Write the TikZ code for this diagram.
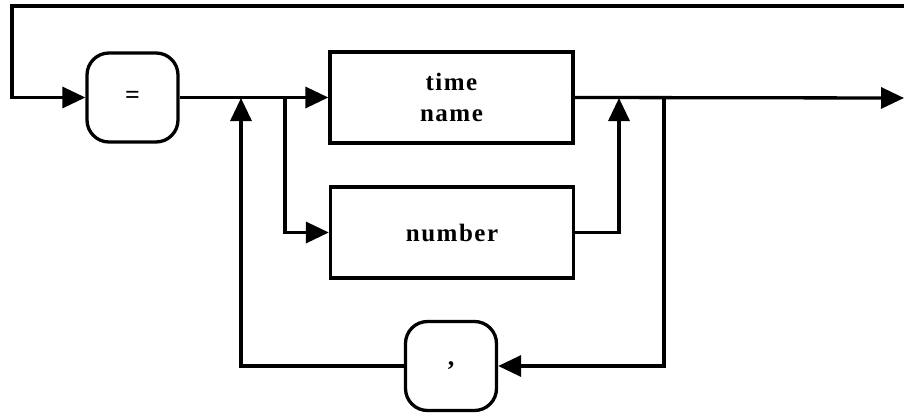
\documentclass[tikz,border=0pt]{standalone}
\usepackage{fontspec}
\usepackage{tikz}
\usetikzlibrary{arrows.meta,positioning}
\newfontfamily\diagfont[LetterSpace=6]{Liberation Serif}
\tikzset{
  termbox/.style={draw,line width=3.3pt,rounded corners=22pt,minimum width=91pt,minimum height=89pt,align=center,font=\diagfont\bfseries\fontsize{26}{31}\selectfont},
  nontbox/.style={draw,line width=3.3pt,minimum width=243pt,minimum height=91pt,align=center,font=\diagfont\bfseries\fontsize{25}{31}\selectfont},
}
\begin{document}
\begin{tikzpicture}[
        x=1pt,y=-1pt,
        arr/.style={-{Triangle[length=23pt,width=21pt]},line width=3.3pt},
      ]
        \useasboundingbox (0,0) rectangle (904,415);

        \node[termbox] (eq) at (132.5,97.5) {=};
        \node[nontbox] (tname) at (451.5,97.5) {time\\name};
        \node[nontbox] (num) at (452,232.5) {number};
        \node[termbox] (comma) at (451,366) {,};

        \coordinate (topR) at (904,6);
        \coordinate (topL) at (12,6);
        \coordinate (split1) at (285,98);
        \coordinate (join1) at (619,98);
        \coordinate (split2) at (664,98);
        \coordinate (back) at (241,98);
        \coordinate (exit) at (904,98);

        \draw[arr] (topR) -- (topL) |- (eq.west);
        \draw[arr] (eq.east) -- (tname.west);
        \draw[arr] (split1) |- (num.west);
        \draw[arr] (num.east) -| (join1);
        \draw[arr] (tname.east) -- (exit);
        \draw[arr] (split2) |- (comma.east);
        \draw[arr] (comma.west) -| (back);
      \end{tikzpicture}
\end{document}
